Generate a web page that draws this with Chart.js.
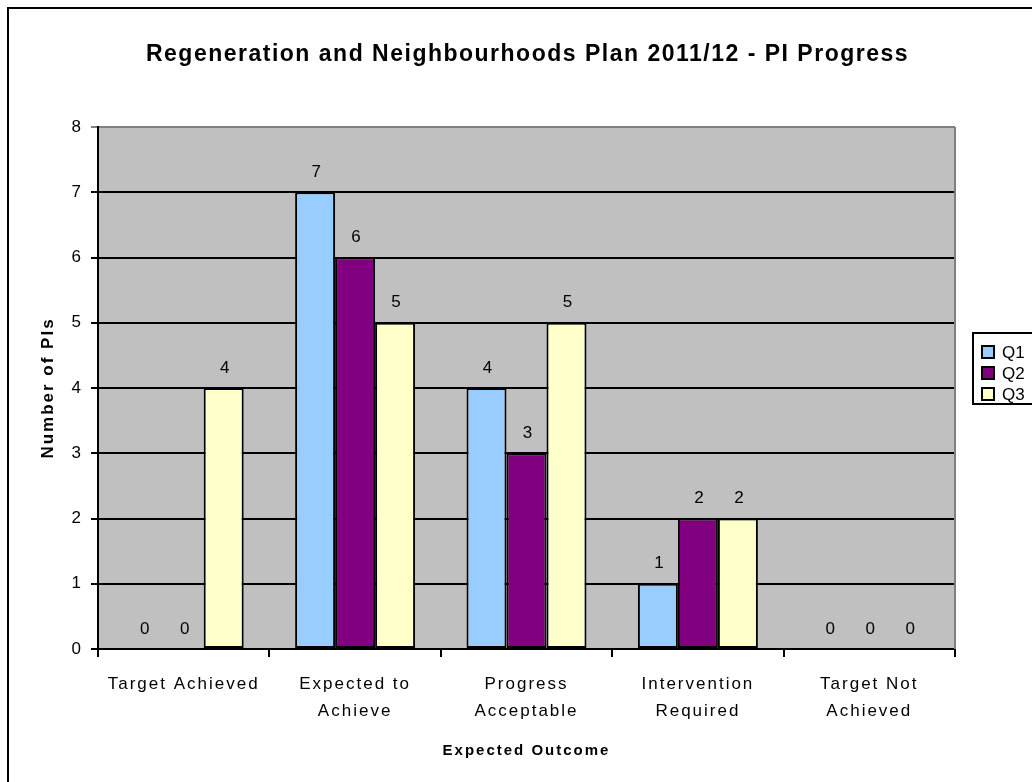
<!DOCTYPE html>
<html>
<head>
<meta charset="utf-8">
<script src="https://cdn.jsdelivr.net/npm/chart.js@4.4.0/dist/chart.umd.min.js"></script>
<style>
  html, body { margin: 0; padding: 0; background: #fff; }
  canvas { display: block; }
</style>
</head>
<body>
<canvas id="chart" width="1032" height="782"></canvas>
<script>
// categories and per-quarter counts
const outcomes = [
  'Target Achieved',
  ['Expected to', 'Achieve'],
  ['Progress', 'Acceptable'],
  ['Intervention', 'Required'],
  ['Target Not', 'Achieved']
];
const quarters = ['Q1', 'Q2', 'Q3'];
const q1Values = [0, 7, 4, 1, 0];
const q2Values = [0, 6, 3, 2, 0];
const q3Values = [4, 5, 5, 2, 0];
const quarterColors = ['#99CCFF', '#800080', '#FFFFCC'];

const chartTitle = 'Regeneration and Neighbourhoods Plan 2011/12 - PI Progress';
const yTitle = 'Number of PIs';
const xTitle = 'Expected Outcome';
const yMax = 8;

const FONT = '"Liberation Sans", Arial, sans-serif';

// white page, grey plot area, wider letter spacing for all text
const backdrop = {
  id: 'backdrop',
  beforeDraw(chart) {
    const { ctx, chartArea: a } = chart;
    ctx.save();
    ctx.fillStyle = '#fff';
    ctx.fillRect(0, 0, chart.width, chart.height);
    ctx.fillStyle = '#C0C0C0';
    ctx.fillRect(a.left, a.top, a.right - a.left, a.bottom - a.top);
    ctx.restore();
    ctx.letterSpacing = '2px';
  },
  afterDraw(chart) {
    const { ctx, chartArea: a } = chart;
    ctx.save();
    // right edge of the plot
    ctx.strokeStyle = '#808080';
    ctx.lineWidth = 2;
    ctx.beginPath();
    ctx.moveTo(a.right, a.top);
    ctx.lineTo(a.right, a.bottom);
    ctx.stroke();
    // outer frame (only top and left edges fall inside the canvas)
    ctx.strokeStyle = '#000';
    ctx.lineWidth = 2;
    ctx.strokeRect(8, 8, chart.width + 20, chart.height + 20);
    ctx.restore();
  }
};

// main heading, centred over the plot
const heading = {
  id: 'heading',
  afterDraw(chart) {
    const { ctx, chartArea: a } = chart;
    ctx.save();
    ctx.letterSpacing = '1.5px';
    ctx.font = 'bold 23px ' + FONT;
    ctx.fillStyle = '#000';
    ctx.textAlign = 'center';
    ctx.textBaseline = 'middle';
    ctx.fillText(chartTitle, (a.left + a.right) / 2 + 1, 55);
    ctx.restore();
  }
};

// value printed above every bar
const valueLabels = {
  id: 'valueLabels',
  afterDatasetsDraw(chart) {
    const { ctx } = chart;
    ctx.save();
    ctx.letterSpacing = '0px';
    ctx.font = '17px ' + FONT;
    ctx.fillStyle = '#000';
    ctx.textAlign = 'center';
    ctx.textBaseline = 'middle';
    chart.data.datasets.forEach((ds, i) => {
      chart.getDatasetMeta(i).data.forEach((bar, j) => {
        ctx.fillText(String(ds.data[j]), bar.x + 1, bar.y - 20);
      });
    });
    ctx.restore();
  }
};

// boxed legend at the right
const sideLegend = {
  id: 'sideLegend',
  afterDraw(chart) {
    const { ctx } = chart;
    const left = 973, top = 333, rowH = 21;
    const n = chart.data.datasets.length;
    ctx.save();
    ctx.letterSpacing = '0px';
    ctx.strokeStyle = '#000';
    ctx.lineWidth = 2;
    ctx.strokeRect(left, top, 100, n * rowH + 8);
    ctx.font = '17px ' + FONT;
    ctx.textBaseline = 'middle';
    ctx.textAlign = 'left';
    chart.data.datasets.forEach((ds, i) => {
      const cy = top + 19 + i * rowH;
      ctx.fillStyle = ds.backgroundColor;
      ctx.fillRect(982, cy - 6, 12, 12);
      ctx.strokeRect(982, cy - 6, 12, 12);
      ctx.fillStyle = '#000';
      ctx.fillText(ds.label, 1002, cy + 1);
    });
    ctx.restore();
  }
};

const seriesValues = [q1Values, q2Values, q3Values];

new Chart(document.getElementById('chart'), {
  type: 'bar',
  data: {
    labels: outcomes,
    datasets: quarters.map((q, i) => ({
      label: q,
      data: seriesValues[i],
      backgroundColor: quarterColors[i],
      borderColor: '#000',
      borderWidth: 2,
      borderSkipped: false,
      barPercentage: 1,
      categoryPercentage: 0.7
    }))
  },
  options: {
    responsive: false,
    animation: false,
    devicePixelRatio: 1,
    layout: { padding: { top: 127, right: 77, bottom: 0, left: 0 } },
    plugins: {
      legend: { display: false },
      tooltip: { enabled: false }
    },
    scales: {
      x: {
        afterFit(scale) { scale.height = 133; },
        grid: {
          offset: true,
          drawOnChartArea: false,
          tickLength: 8,
          color: '#000',
          lineWidth: 2
        },
        border: { color: '#000', width: 2 },
        ticks: {
          color: '#000',
          font: { family: FONT, size: 17, lineHeight: 1.6 },
          padding: 14,
          maxRotation: 0,
          autoSkip: false
        },
        title: {
          display: true,
          text: xTitle,
          color: '#000',
          font: { family: FONT, size: 15, weight: 'bold' },
          padding: { top: 0, bottom: 22 }
        }
      },
      y: {
        min: 0,
        max: yMax,
        afterFit(scale) { scale.width = 98; },
        grid: {
          color: (c) => (c.tick && c.tick.value === yMax ? '#808080' : '#000'),
          lineWidth: 2,
          tickLength: 7
        },
        border: { color: '#000', width: 2 },
        ticks: {
          stepSize: 1,
          color: '#000',
          font: { family: FONT, size: 17 },
          padding: 8
        },
        title: {
          display: true,
          text: yTitle,
          color: '#000',
          font: { family: FONT, size: 17, weight: 'bold' },
          padding: { top: 38, bottom: 0 }
        }
      }
    }
  },
  plugins: [backdrop, heading, valueLabels, sideLegend]
});
</script>
</body>
</html>
